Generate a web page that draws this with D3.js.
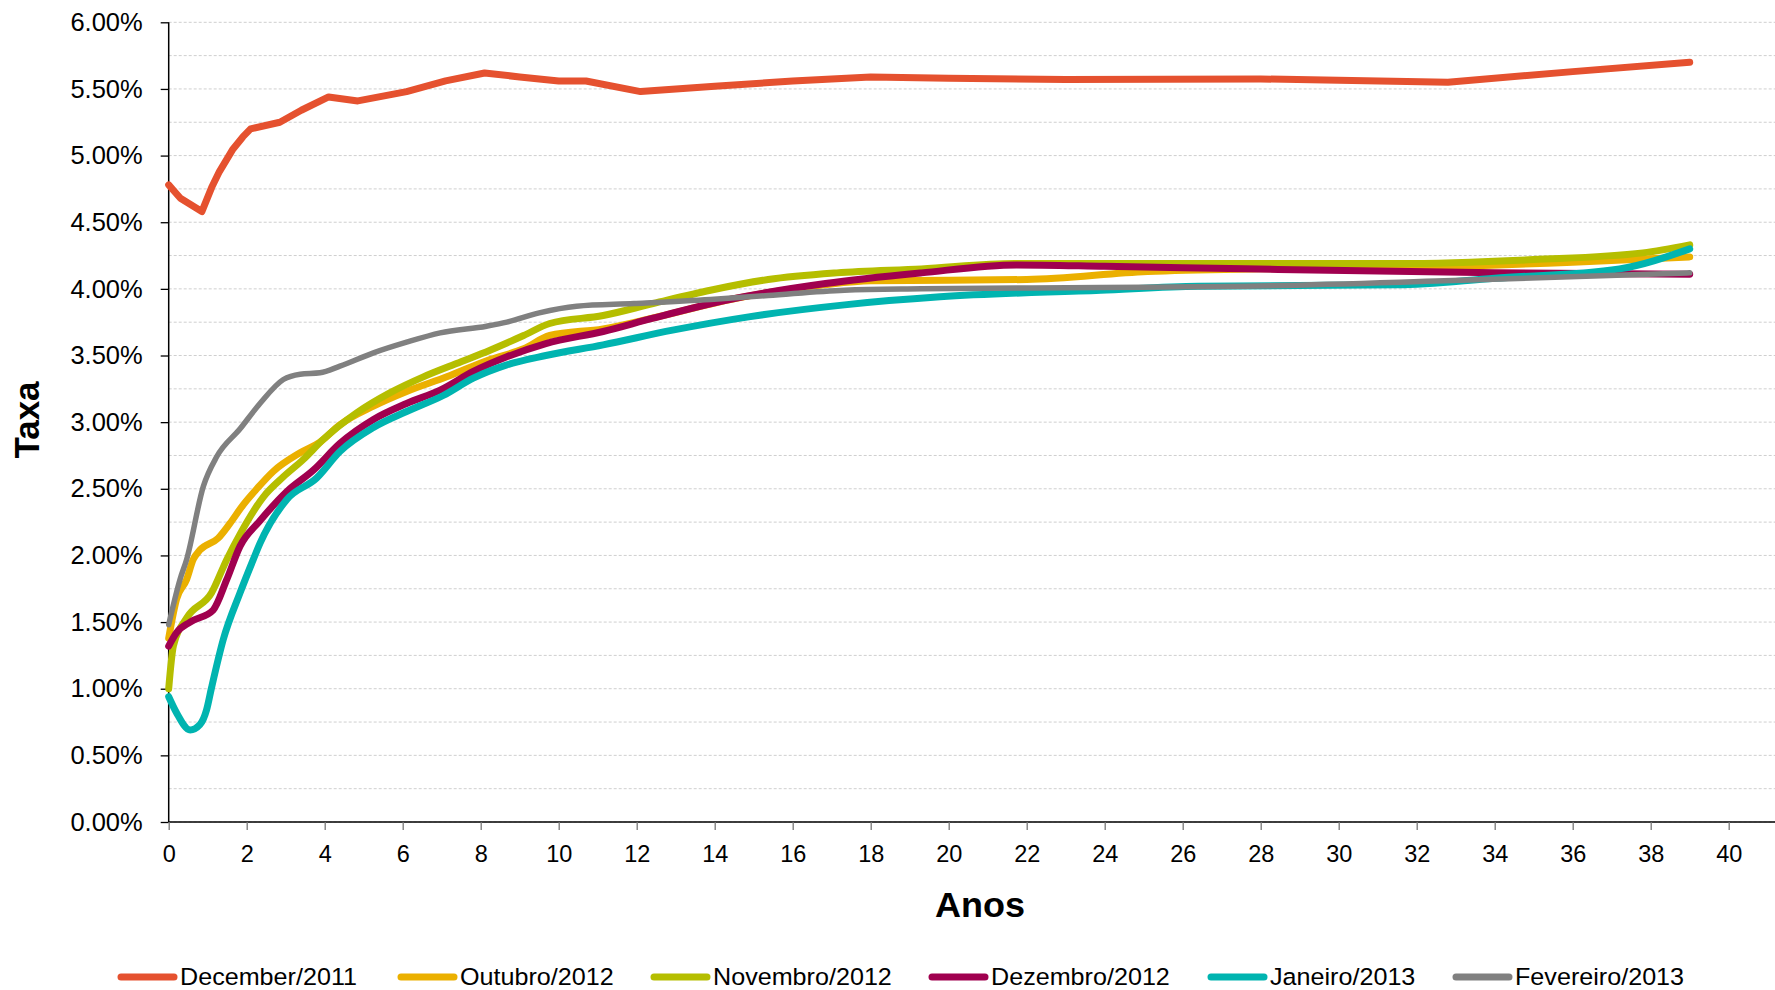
<!DOCTYPE html>
<html>
<head>
<meta charset="utf-8">
<script src="https://cdn.jsdelivr.net/npm/d3@7"></script>
<style>
  body { margin: 0; background: #fff; }
  svg { display: block; font-family: "Liberation Sans", Arial, sans-serif; }
  .grid line { stroke: #cfcfcf; stroke-dasharray: 3,2; }
</style>
</head>
<body>
<svg id="chart" width="1775" height="990"></svg>
<script>
// curves: [anos, taxa %]
const dez2011 = [[0,4.78],[0.3,4.68],[0.85,4.58],[1.1,4.76],[1.3,4.88],[1.65,5.05],[1.9,5.14],[2.1,5.2],[2.85,5.25],[3.4,5.34],[4.1,5.44],[4.85,5.41],[6.1,5.48],[7.1,5.56],[8.1,5.62],[9,5.59],[10,5.56],[10.7,5.56],[12.1,5.48],[14,5.52],[16,5.56],[18,5.59],[20,5.58],[23,5.57],[28,5.575],[32.8,5.55],[36,5.63],[39,5.70]]
const out2012 = [[0,1.38],[0.2,1.67],[0.46,1.82],[0.63,1.97],[0.8,2.04],[1.27,2.13],[1.57,2.24],[1.91,2.38],[2.26,2.5],[2.68,2.63],[3.37,2.77],[3.88,2.85],[4.39,2.98],[5.25,3.12],[6.1,3.23],[7.13,3.34],[8.24,3.47],[9.1,3.55],[9.77,3.65],[11.14,3.7],[12.4,3.78],[14.4,3.92],[16.8,4.03],[18,4.06],[22,4.07],[25.1,4.13],[28,4.15],[31.5,4.16],[36,4.2],[39,4.24]]
const nov2012 = [[0,1.0],[0.12,1.32],[0.46,1.53],[1.1,1.72],[1.49,1.97],[1.83,2.16],[2.43,2.44],[2.94,2.59],[3.45,2.72],[3.96,2.87],[4.82,3.07],[5.67,3.22],[6.53,3.34],[7.38,3.44],[8.24,3.54],[9.1,3.65],[9.77,3.74],[11.14,3.8],[12.42,3.89],[13.89,3.99],[15.37,4.07],[17.13,4.12],[19.3,4.15],[21.7,4.19],[26,4.19],[31.5,4.19],[35,4.22],[37.8,4.27],[39,4.33]]
const dez2012 = [[0,1.32],[0.2,1.42],[0.55,1.5],[1.14,1.59],[1.49,1.82],[1.83,2.07],[2.34,2.26],[3.03,2.48],[3.71,2.64],[4.39,2.84],[5.25,3.02],[6.1,3.14],[6.96,3.24],[7.81,3.38],[8.67,3.49],[9.67,3.59],[11.14,3.68],[12.42,3.78],[14.38,3.92],[16.84,4.04],[19.3,4.12],[21.74,4.18],[24,4.17],[27.6,4.15],[34,4.12],[39,4.11]]
const jan2013 = [[0,0.94],[0.2,0.82],[0.55,0.69],[0.8,0.73],[0.97,0.84],[1.1,1.01],[1.4,1.37],[1.83,1.72],[2.17,1.97],[2.34,2.09],[3.03,2.42],[3.79,2.58],[4.39,2.78],[5.25,2.96],[6.1,3.08],[7.04,3.2],[7.81,3.33],[8.67,3.43],[9.67,3.5],[11.14,3.58],[12.92,3.69],[14.87,3.79],[17.33,3.88],[19.78,3.94],[23.9,3.99],[26.4,4.02],[31.5,4.03],[34,4.08],[37.2,4.15],[39,4.3]]
const fev2013 = [[0,1.48],[0.29,1.82],[0.46,1.97],[0.89,2.52],[1.23,2.74],[1.83,2.95],[2.34,3.14],[2.94,3.32],[3.37,3.36],[3.88,3.37],[4.39,3.42],[5.25,3.52],[6.1,3.6],[6.96,3.67],[8.15,3.72],[8.67,3.75],[9.5,3.82],[10.46,3.87],[11.93,3.89],[13.89,3.92],[15.37,3.95],[17.33,3.99],[19.3,4.0],[23.9,4.01],[27.6,4.02],[32.7,4.06],[39,4.12]]

const seriesNames = ['December/2011', 'Outubro/2012', 'Novembro/2012', 'Dezembro/2012', 'Janeiro/2013', 'Fevereiro/2013']
const seriesData = [dez2011, out2012, nov2012, dez2012, jan2013, fev2013]
const colors = ['#e5512f', '#ebb000', '#b5be00', '#a0004f', '#00b4b0', '#808080']
const widths = [7, 7, 7, 7, 7, 5.5]

const xTicks = d3.range(0, 41, 2)
const yTicks = d3.range(0, 6.01, 0.5)
const yGrid = d3.range(0, 6.01, 0.25)

const chart = d3.select('#chart')
const x = d3.scaleLinear().domain([0, 40]).range([168.7, 1728.7])
const y = d3.scaleLinear().domain([0, 6]).range([822, 22.3])
const right = 1775

// gridlines
chart.append('g').attr('class', 'grid')
    .selectAll('line')
    .data(yGrid)
    .enter()
    .append('line')
    .attr('x1', x(0)).attr('x2', right)
    .attr('y1', d => y(d)).attr('y2', d => y(d))

// y-axis
const yAxis = chart.append('g')
    .attr('transform', `translate(${x(0)},0)`)
    .call(d3.axisLeft(y).tickValues(yTicks).tickSize(8).tickPadding(18)
        .tickFormat(d => d.toFixed(2) + '%'))
yAxis.select('.domain').attr('stroke', '#000').attr('stroke-width', 1.5).attr('d', `M0,${y(6)}V${y(0)}`)
yAxis.selectAll('.tick line').attr('stroke', '#000').attr('stroke-width', 1.3)
yAxis.selectAll('text').attr('font-size', 25.5).attr('fill', '#000').attr('font-family', 'Liberation Sans, Arial')

// x-axis
const xAxis = chart.append('g')
    .attr('transform', `translate(0,${y(0)})`)
    .call(d3.axisBottom(x).tickValues(xTicks).tickSize(8).tickPadding(15.5))
xAxis.select('.domain').attr('stroke', '#000').attr('stroke-width', 1.5).attr('d', `M${x(0)},0H${right}`)
xAxis.selectAll('.tick line').attr('stroke', '#777').attr('stroke-width', 1.3)
xAxis.selectAll('text').attr('font-size', 23.5).attr('fill', '#000').attr('font-family', 'Liberation Sans, Arial')

// lines
const line = d3.line()
    .x(d => x(d[0]))
    .y(d => y(d[1]))

chart.append('g')
    .selectAll('path')
    .data(seriesData)
    .enter()
    .append('path')
    .attr('d', (d, i) => line.curve(i === 0 ? d3.curveLinear : d3.curveMonotoneX)(d))
    .attr('fill', 'none')
    .attr('stroke', (d, i) => colors[i])
    .attr('stroke-width', (d, i) => widths[i])
    .attr('stroke-linejoin', 'round')
    .attr('stroke-linecap', 'round')

// axis titles
chart.append('text')
    .text('Anos')
    .attr('x', 980).attr('y', 917)
    .attr('text-anchor', 'middle')
    .attr('font-size', 35).attr('font-weight', 'bold')
    .attr('textLength', 90).attr('lengthAdjust', 'spacingAndGlyphs')

chart.append('text')
    .text('Taxa')
    .attr('transform', 'translate(39,420) rotate(-90)')
    .attr('text-anchor', 'middle')
    .attr('font-size', 35).attr('font-weight', 'bold')

// legend
const legendX = [117, 397, 650, 928, 1207, 1452]
const legend = chart.append('g')
    .selectAll('g')
    .data(seriesNames)
    .enter()
    .append('g')
    .attr('transform', (d, i) => `translate(${legendX[i]},977)`)

legend.append('line')
    .attr('x1', 4).attr('x2', 57)
    .attr('stroke', (d, i) => colors[i])
    .attr('stroke-width', 7)
    .attr('stroke-linecap', 'round')

legend.append('text')
    .text(d => d)
    .attr('transform', 'translate(63,7.5) scale(1.07,1)')
    .attr('font-size', 23.5)
</script>
</body>
</html>
